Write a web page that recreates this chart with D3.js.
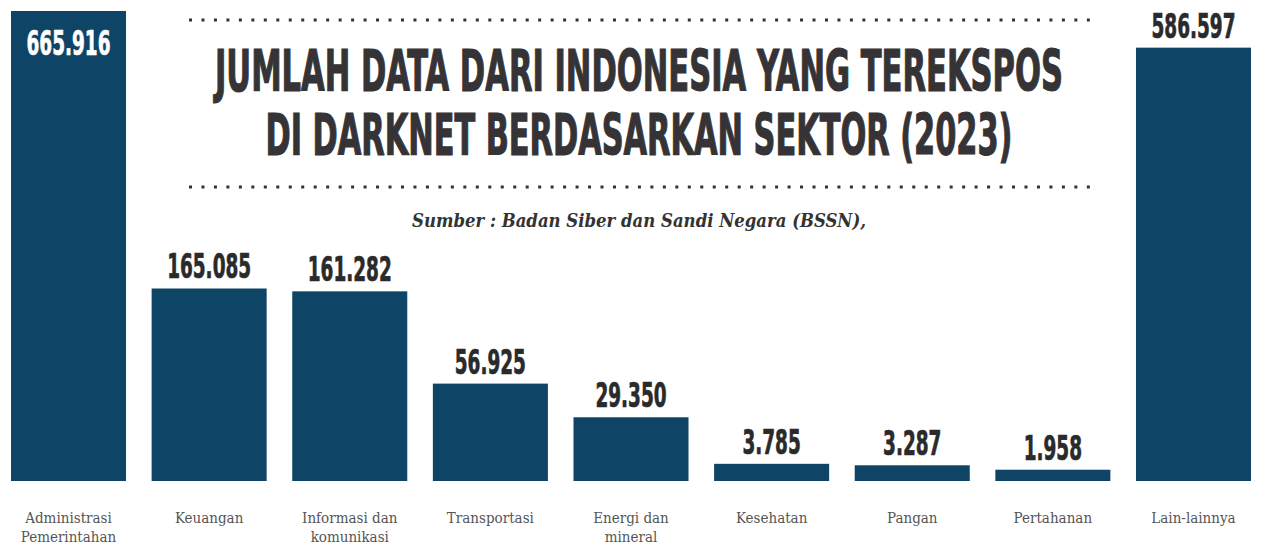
<!DOCTYPE html>
<html>
  <head>
    <meta charset="utf-8" />
    <title>Jumlah data terekspos</title>
    <script src="https://cdn.jsdelivr.net/npm/d3@7"></script>
    <style type="text/css">
      body { margin: 0; background: #fff; }
      .num { font-family: "Liberation Sans Narrow", "DejaVu Sans Condensed", sans-serif; font-weight: bold; }
      .cat { font-family: "DejaVu Serif Condensed", "DejaVu Serif", serif; font-size: 15px; fill: #555; }
    </style>
  </head>

  <body>
    <svg id="chart" width="1270" height="544"></svg>
    <script type="text/javascript">
      // data
      var categories = ['Administrasi Pemerintahan', 'Keuangan', 'Informasi dan komunikasi',
        'Transportasi', 'Energi dan mineral', 'Kesehatan', 'Pangan', 'Pertahanan', 'Lain-lainnya'];
      var catLines = [['Administrasi', 'Pemerintahan'], ['Keuangan'], ['Informasi dan', 'komunikasi'],
        ['Transportasi'], ['Energi dan', 'mineral'], ['Kesehatan'], ['Pangan'], ['Pertahanan'], ['Lain-lainnya']];
      var values = [665916, 165085, 161282, 56925, 29350, 3785, 3287, 1958, 586597];
      var valueLabels = ['665.916', '165.085', '161.282', '56.925', '29.350', '3.785', '3.287', '1.958', '586.597'];
      var titleLines = ['JUMLAH DATA DARI INDONESIA YANG TEREKSPOS', 'DI DARKNET BERDASARKAN SEKTOR (2023)'];
      var source = 'Sumber : Badan Siber dan Sandi Negara (BSSN),';

      var svg = d3.select('#chart');
      var barColor = '#0e4466';
      var maxV = d3.max(values);

      var x = d3.scaleBand().domain(categories).range([11, 1251]).paddingInner(0.182).paddingOuter(0);
      var y = d3.scalePow().exponent(0.64).domain([0, maxV]).range([481, 11]);

      // dotted rules
      [20, 187].forEach(function (yy) {
        svg.append('line')
          .attr('x1', 189).attr('x2', 1090).attr('y1', yy).attr('y2', yy)
          .attr('stroke', '#333').attr('stroke-width', 3)
          .attr('stroke-dasharray', '3,9.47');
      });

      // title
      var titleW = [848, 747], titleY = [91, 155];
      svg.selectAll('text.title').data(titleLines).enter().append('text')
        .attr('class', 'title num')
        .attr('x', 639).attr('y', (d, i) => titleY[i])
        .attr('text-anchor', 'middle')
        .attr('font-size', 57)
        .attr('fill', '#353335')
        .attr('stroke', '#353335').attr('stroke-width', 1.2)
        .attr('textLength', (d, i) => titleW[i])
        .attr('lengthAdjust', 'spacingAndGlyphs')
        .text((d) => d);

      svg.append('text')
        .attr('x', 639).attr('y', 227)
        .attr('text-anchor', 'middle')
        .attr('font-family', '"DejaVu Serif Condensed", "DejaVu Serif", serif')
        .attr('font-style', 'italic').attr('font-weight', 'bold')
        .attr('font-size', 19).attr('fill', '#333')
        .attr('textLength', 454).attr('lengthAdjust', 'spacingAndGlyphs')
        .text(source);

      // bars
      svg.selectAll('rect.bar').data(values).enter().append('rect')
        .attr('class', 'bar')
        .attr('x', (d, i) => x(categories[i]))
        .attr('width', x.bandwidth())
        .attr('y', (d) => y(d))
        .attr('height', (d) => y(0) - y(d))
        .attr('fill', barColor);

      // value labels (the tallest bar carries its label inside)
      var labels = svg.selectAll('text.val').data(values).enter().append('text')
        .attr('class', 'val num')
        .attr('font-size', 33)
        .attr('text-anchor', 'middle')
        .attr('x', (d, i) => x(categories[i]) + x.bandwidth() / 2)
        .attr('y', (d) => (d === maxV ? y(d) + 44 : y(d) - 10))
        .attr('fill', (d) => (d === maxV ? '#fff' : '#2a2a2a'))
        .attr('stroke', (d) => (d === maxV ? '#fff' : '#2a2a2a'))
        .attr('stroke-width', 0.7)
        .text((d, i) => valueLabels[i]);
      // squeeze to match the condensed display face
      var ref = labels.filter((d, i) => i === 1).node().getComputedTextLength();
      var ratio = 84 / ref;
      labels.each(function () {
        var w = this.getComputedTextLength();
        d3.select(this).attr('textLength', w * ratio).attr('lengthAdjust', 'spacingAndGlyphs');
      });

      // category labels
      var cats = svg.selectAll('text.cat').data(catLines).enter().append('text')
        .attr('class', 'cat')
        .attr('text-anchor', 'middle')
        .attr('x', (d, i) => x(categories[i]) + x.bandwidth() / 2)
        .attr('y', 523);
      cats.selectAll('tspan').data((d) => d).enter().append('tspan')
        .attr('x', function () { return d3.select(this.parentNode).attr('x'); })
        .attr('dy', (d, i) => (i === 0 ? 0 : 19))
        .text((d) => d);
    </script>
  </body>
</html>
